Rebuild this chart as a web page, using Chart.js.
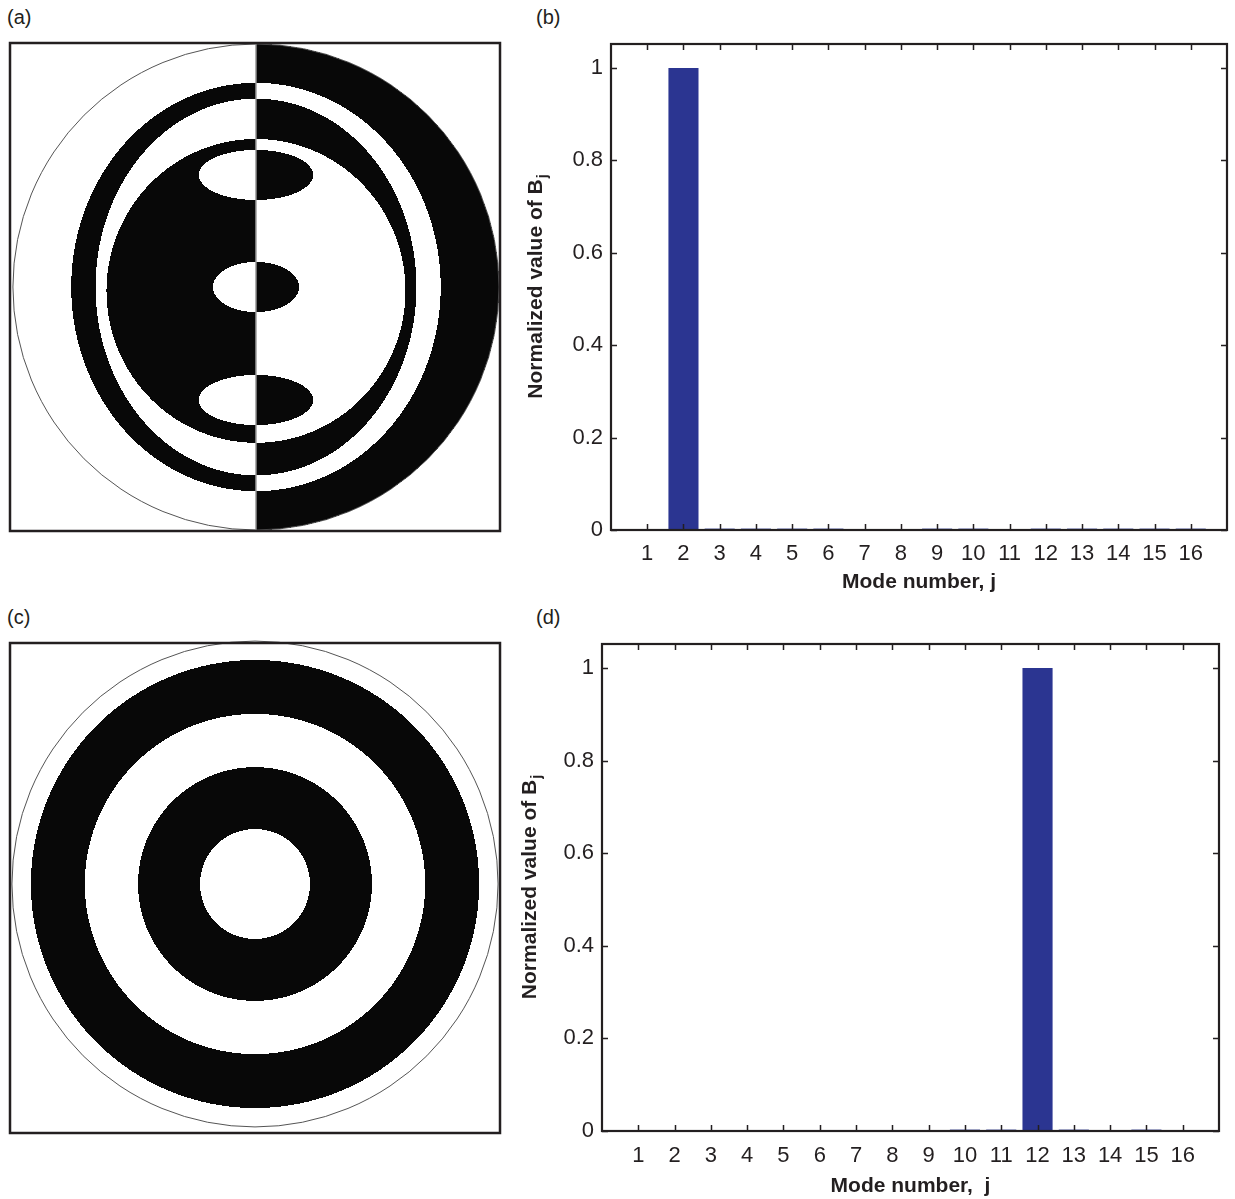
<!DOCTYPE html>
<html>
<head>
<meta charset="utf-8">
<script src="https://cdn.jsdelivr.net/npm/chart.js@4.4.1/dist/chart.umd.min.js"></script>
<style>
  body { margin: 0; background: #fff; }
  #page { position: relative; width: 1235px; height: 1199px; overflow: hidden;
          font-family: "Liberation Sans", Arial, sans-serif; color: #231f20; }
  .lbl { position: absolute; font-size: 20px; line-height: 20px; }
  canvas { position: absolute; }
</style>
</head>
<body>
<div id="page">
  <div class="lbl" style="left:7px;top:7px">(a)</div>
  <div class="lbl" style="left:536px;top:7px">(b)</div>
  <div class="lbl" style="left:7px;top:607px">(c)</div>
  <div class="lbl" style="left:536px;top:607px">(d)</div>
  <canvas id="imgA" width="520" height="520" style="left:0;top:30px"></canvas>
  <canvas id="barB" width="715" height="580" style="left:520px;top:30px"></canvas>
  <canvas id="imgC" width="520" height="520" style="left:0;top:630px"></canvas>
  <canvas id="barD" width="725" height="569" style="left:510px;top:630px"></canvas>
</div>
<script>
'use strict';

// bar chart data
const modes = [1, 2, 3, 4, 5, 6, 7, 8, 9, 10, 11, 12, 13, 14, 15, 16];
const bjB = [0, 1, 0.003, 0.003, 0.003, 0.003, 0, 0, 0.003, 0.003, 0, 0.003, 0.003, 0.003, 0.003, 0.003];
const bjD = [0, 0, 0, 0, 0, 0, 0, 0, 0, 0.003, 0.003, 1, 0.003, 0, 0.003, 0];
const yTicks = [0, 0.2, 0.4, 0.6, 0.8, 1];

// binary phase masks, unit = pupil radius: [cx, cy, rx, ry]
const ringsA = [[0, 0, 1, 1], [0, 0, 0.76, 0.84], [0, 0, 0.66, 0.775], [0, -0.016, 0.615, 0.625]];
const lobesA = [[0, 0.461, 0.235, 0.103], [0, 0, 0.177, 0.103], [0, -0.465, 0.235, 0.103]];
const ringsC = [1, 0.922, 0.70, 0.481, 0.226];

const ink = '#231f20';
const barColor = '#2b3591';

Chart.defaults.font.family = '"Liberation Sans", Arial, sans-serif';
Chart.defaults.color = ink;

function inEll(u, v, e) {
  const a = (u - e[0]) / e[2];
  const b = (v - e[1]) / e[3];
  return a * a + b * b <= 1;
}

function shadeA(u, v) {
  const n = ringsA.filter(e => inEll(u, v, e)).length;
  if (n === 0) return false;
  let black = n % 2 === 1;
  if (n === 4 && lobesA.some(e => inEll(u, v, e))) black = !black;
  return u < 0 ? !black : black;
}

function shadeC(u, v) {
  const d = Math.hypot(u, v);
  const n = ringsC.filter(r => d <= r).length;
  return n > 0 && n % 2 === 0;
}

function makeMask(shade, midLine) {
  return {
    id: 'mask',
    beforeDatasetsDraw(chart) {
      const { ctx, chartArea: a, scales: { x, y } } = chart;
      const w = Math.round(a.right - a.left);
      const h = Math.round(a.bottom - a.top);
      const img = ctx.createImageData(w, h);
      for (let j = 0; j < h; j++) {
        const v = y.getValueForPixel(a.top + j + 0.5);
        for (let i = 0; i < w; i++) {
          const u = x.getValueForPixel(a.left + i + 0.5);
          const c = shade(u, v) ? 8 : 255;
          const k = (j * w + i) * 4;
          img.data[k] = c; img.data[k + 1] = c; img.data[k + 2] = c; img.data[k + 3] = 255;
        }
      }
      ctx.putImageData(img, Math.round(a.left), Math.round(a.top));

      ctx.save();
      const cx = x.getPixelForValue(0), cy = y.getPixelForValue(0);
      const rx = x.getPixelForValue(1) - cx, ry = cy - y.getPixelForValue(1);
      ctx.strokeStyle = '#555';
      ctx.lineWidth = 1;
      ctx.beginPath();
      ctx.ellipse(cx, cy, rx, ry, 0, 0, Math.PI * 2);
      ctx.stroke();
      if (midLine) {
        ctx.strokeStyle = '#999';
        ctx.lineWidth = 1.5;
        ctx.beginPath();
        ctx.moveTo(cx, cy - ry);
        ctx.lineTo(cx, cy + ry);
        ctx.stroke();
      }
      ctx.strokeStyle = ink;
      ctx.lineWidth = 2.5;
      ctx.strokeRect(a.left, a.top, a.right - a.left, a.bottom - a.top);
      ctx.restore();
    }
  };
}

function imageChart(id, shade, midLine, pad, xr, yr) {
  return new Chart(document.getElementById(id), {
    type: 'scatter',
    data: { datasets: [{ data: [] }] },
    options: {
      responsive: false,
      animation: false,
      devicePixelRatio: 1,
      layout: { padding: pad },
      plugins: { legend: { display: false }, tooltip: { enabled: false } },
      scales: {
        x: { display: false, min: xr[0], max: xr[1] },
        y: { display: false, min: yr[0], max: yr[1] },
      },
    },
    plugins: [makeMask(shade, midLine)],
  });
}

function makeFrame(o) {
  return {
    id: 'frame',
    afterDraw(chart) {
      const { ctx, chartArea: a, scales: { x, y } } = chart;
      ctx.save();
      ctx.strokeStyle = ink;
      ctx.lineWidth = 1.5;
      ctx.beginPath();
      x.ticks.forEach(t => {
        const px = Math.round(x.getPixelForValue(t.value)) + 0.5;
        ctx.moveTo(px, a.bottom); ctx.lineTo(px, a.bottom - 6);
        ctx.moveTo(px, a.top); ctx.lineTo(px, a.top + 6);
      });
      y.ticks.forEach(t => {
        const py = Math.round(y.getPixelForValue(t.value)) + 0.5;
        ctx.moveTo(a.left, py); ctx.lineTo(a.left + 6, py);
        ctx.moveTo(a.right, py); ctx.lineTo(a.right - 6, py);
      });
      ctx.stroke();
      ctx.lineWidth = 2.2;
      ctx.strokeRect(a.left, a.top, a.right - a.left, a.bottom - a.top);

      // axis titles
      ctx.fillStyle = ink;
      ctx.textAlign = 'center';
      ctx.textBaseline = 'middle';
      ctx.font = 'bold 21px "Liberation Sans", Arial, sans-serif';
      ctx.fillText(o.xTitle, (a.left + a.right) / 2, a.bottom + o.xGap);

      const main = 'Normalized value of B';
      const sub = 'j';
      const w1 = ctx.measureText(main).width;
      ctx.font = 'bold 14px "Liberation Sans", Arial, sans-serif';
      const w2 = ctx.measureText(sub).width;
      ctx.translate(a.left - o.yGap, (a.top + a.bottom) / 2);
      ctx.rotate(-Math.PI / 2);
      ctx.textAlign = 'left';
      ctx.font = 'bold 21px "Liberation Sans", Arial, sans-serif';
      ctx.fillText(main, -(w1 + w2) / 2, 0);
      ctx.font = 'bold 14px "Liberation Sans", Arial, sans-serif';
      ctx.fillText(sub, -(w1 + w2) / 2 + w1 + 1, 7);
      ctx.restore();
    }
  };
}

function barChart(id, values, o) {
  return new Chart(document.getElementById(id), {
    type: 'bar',
    data: {
      datasets: [{
        data: modes.map((m, i) => ({ x: m, y: values[i] })),
        backgroundColor: barColor,
        barPercentage: 1,
        categoryPercentage: 0.83,
      }],
    },
    options: {
      responsive: false,
      animation: false,
      devicePixelRatio: 1,
      layout: { padding: { left: 0, top: 14, right: o.right, bottom: 0 } },
      plugins: { legend: { display: false }, tooltip: { enabled: false } },
      scales: {
        x: {
          type: 'linear', min: 0, max: 17, offset: false,
          grid: { display: false, drawTicks: false }, border: { display: false },
          afterBuildTicks: s => { s.ticks = modes.map(v => ({ value: v })); },
          afterFit: s => { s.height = o.xh; s.paddingLeft = 0; s.paddingRight = 0; },
          ticks: { padding: o.xPad, font: { size: 22 }, color: ink, maxRotation: 0, autoSkip: false,
                   callback: v => String(v) },
        },
        y: {
          min: 0, max: 1.052,
          grid: { display: false, drawTicks: false }, border: { display: false },
          afterBuildTicks: s => { s.ticks = yTicks.map(v => ({ value: v })); },
          afterFit: s => { s.width = o.yw; s.paddingTop = 0; s.paddingBottom = 0; },
          ticks: { padding: 8, font: { size: 22 }, color: ink,
                   callback: v => String(+v.toFixed(1)) },
        },
      },
    },
    plugins: [makeFrame(o)],
  });
}

imageChart('imgA', shadeA, true, { left: 10, top: 13, right: 20, bottom: 19 }, [-1.012, 1.004], [-1.004, 1.004]);
imageChart('imgC', shadeC, false, { left: 10, top: 13, right: 20, bottom: 17 }, [-1.008, 1.008], [-1.025, 0.992]);
barChart('barB', bjB, { right: 8, yw: 91, xh: 80, xPad: 11, xGap: 52, yGap: 75, xTitle: 'Mode number, j' });
barChart('barD', bjD, { right: 16, yw: 92, xh: 68, xPad: 12, xGap: 55, yGap: 72, xTitle: 'Mode number,  j' });
</script>
</body>
</html>
